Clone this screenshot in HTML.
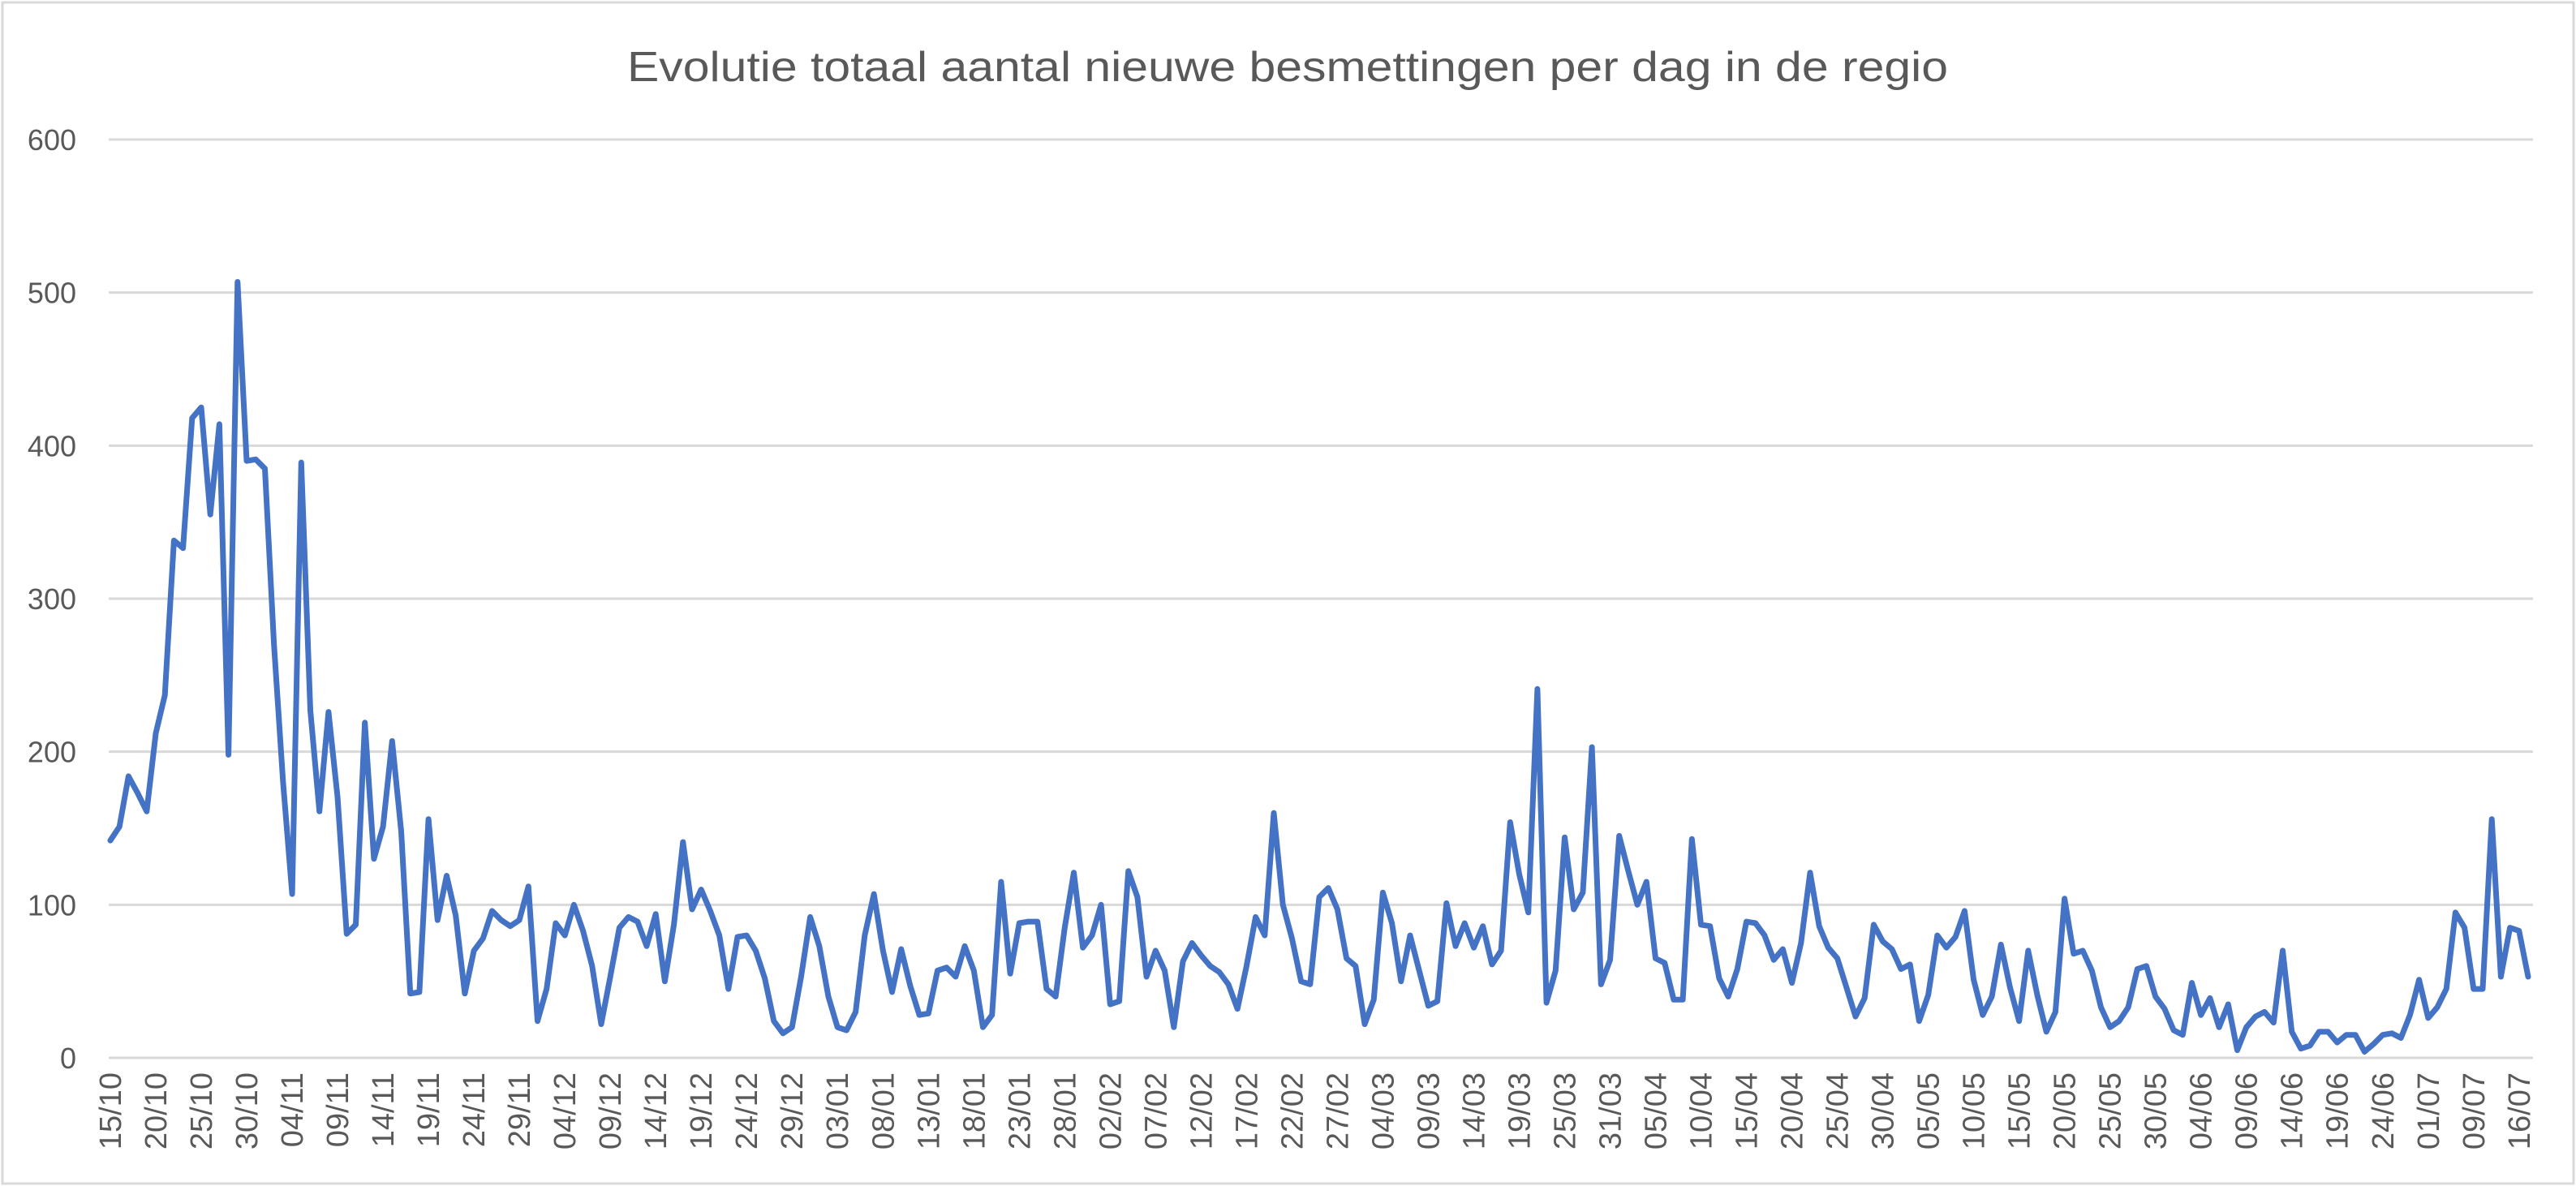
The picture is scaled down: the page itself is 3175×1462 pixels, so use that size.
<!DOCTYPE html>
<html><head><meta charset="utf-8"><style>
html,body{margin:0;padding:0;background:#fff}
svg{display:block}
text{font-family:"Liberation Sans",sans-serif;fill:#595959}
</style></head><body>
<svg id="s" width="3175" height="1462" viewBox="0 0 3175 1462" xmlns="http://www.w3.org/2000/svg">
<rect x="3" y="3" width="3169" height="1456" fill="#fff" stroke="#D9D9D9" stroke-width="3"/>
<text x="1587" y="100" font-size="52" text-anchor="middle" textLength="1628" lengthAdjust="spacingAndGlyphs">Evolutie totaal aantal nieuwe besmettingen per dag in de regio</text>
<g id="grid" stroke="#D9D9D9" stroke-width="3"></g>
<g id="ylab" font-size="36" text-anchor="end"></g>
<g id="xlab" font-size="38" text-anchor="end"></g>
<polyline id="line" fill="none" stroke="#4472C4" stroke-width="7" stroke-linejoin="round" stroke-linecap="round"/>
</svg>
<script>
var d=[142,151,184,173,161,212,237,338,333,418,425,355,414,198,507,390,391,385,270,180,107,389,227,161,226,170,81,87,219,130,151,207,148,42,43,156,90,119,93,42,70,78,96,90,86,90,112,
24,45,88,80,100,83,60,22,53,85,
92,89,73,94,50,87,141,97,110,96,
80,45,79,80,70,52,24,16,20,53,
92,73,40,20,18,30,80,107,70,43,
71,47,28,29,57,59,53,73,57,20,
28,115,55,88,89,89,45,40,85,121,
72,80,100,35,37,122,105,53,70,57,
20,63,75,67,60,56,48,32,60,92,
80,160,100,78,50,48,105,111,97,65,
60,22,38,108,88,50,80,57,34,37,
101,73,88,72,86,61,70,154,120,95,
241,36,57,144,97,108,203,48,64,145,
122,100,115,65,62,38,38,143,87,86,
52,40,58,89,88,80,64,71,49,75,
121,86,72,65,46,27,39,87,76,71,
58,61,24,41,80,72,79,96,51,28,
40,74,46,24,70,41,17,30,104,68,
70,57,33,20,24,33,58,60,40,32,
18,15,49,28,39,20,35,5,20,27,
30,23,70,17,6,8,17,17,10,15,
15,4,9,15,16,13,28,51,26,33,
45,95,85,45,45,156,53,85,83,53];
var labs="15/10 20/10 25/10 30/10 04/11 09/11 14/11 19/11 24/11 29/11 04/12 09/12 14/12 19/12 24/12 29/12 03/01 08/01 13/01 18/01 23/01 28/01 02/02 07/02 12/02 17/02 22/02 27/02 04/03 09/03 14/03 19/03 25/03 31/03 05/04 10/04 15/04 20/04 25/04 30/04 05/05 10/05 15/05 20/05 25/05 30/05 04/06 09/06 14/06 19/06 24/06 01/07 09/07 16/07".split(" ");
var NS="http://www.w3.org/2000/svg";
var x0=136,x1=3116,N=d.length,dx=(x1-x0)/(N-1);
function Y(v){return 1304-v*1132/600;}
var g=document.getElementById("grid"),yl=document.getElementById("ylab"),xl=document.getElementById("xlab");
for(var i=0;i<=6;i++){var y=Y(i*100);
 var l=document.createElementNS(NS,"line");l.setAttribute("x1",134);l.setAttribute("x2",3122);l.setAttribute("y1",y);l.setAttribute("y2",y);g.appendChild(l);
 var t=document.createElementNS(NS,"text");t.setAttribute("x",94);t.setAttribute("y",y+13);t.textContent=i*100;yl.appendChild(t);}
var pts=[];for(var i=0;i<N;i++)pts.push((x0+i*dx).toFixed(1)+","+Y(d[i]).toFixed(1));
document.getElementById("line").setAttribute("points",pts.join(" "));
for(var k=0;k<labs.length;k++){var x=x0+k*5*dx+13,y=1322;
 var t=document.createElementNS(NS,"text");t.setAttribute("x",x);t.setAttribute("y",y);t.setAttribute("transform","rotate(-90 "+x+" "+y+")");t.textContent=labs[k];xl.appendChild(t);}
</script>
</body></html>
